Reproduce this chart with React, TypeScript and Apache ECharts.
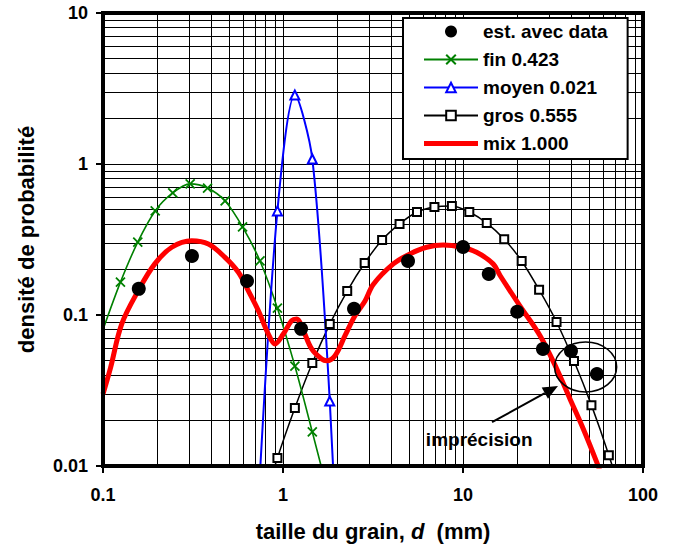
import React, { useEffect, useRef } from "react";
import * as echarts from "echarts";

// ---- data ----
const dataX = [0.158, 0.312, 0.631, 1.26, 2.48, 4.95, 10.0, 13.9, 20.0, 27.8, 39.8, 55.5];
const dataY = [0.149, 0.246, 0.168, 0.081, 0.11, 0.228, 0.282, 0.187, 0.105, 0.0596, 0.0578, 0.0407];

const finX = [0.1, 0.125, 0.156, 0.195, 0.244, 0.305, 0.381, 0.477, 0.596, 0.745, 0.931, 1.164, 1.455, 1.819];
const finY = [0.08, 0.165, 0.304, 0.489, 0.643, 0.738, 0.693, 0.569, 0.383, 0.228, 0.111, 0.0459, 0.0168, 0.006];

const moyenX = [0.745, 0.931, 1.164, 1.455, 1.819, 2.274];
const moyenY = [0.009, 0.489, 2.86, 1.08, 0.0269, 0.0001];

const grosX = [0.745, 0.931, 1.164, 1.455, 1.819, 2.274, 2.842, 3.553, 4.441, 5.551, 6.939, 8.674, 10.84, 13.55, 16.94, 21.18, 26.47, 33.09, 41.36, 51.7, 64.6, 80.8];
const grosY = [0.0048, 0.0113, 0.0242, 0.0481, 0.0871, 0.144, 0.221, 0.314, 0.401, 0.481, 0.519, 0.527, 0.481, 0.406, 0.318, 0.228, 0.147, 0.0899, 0.0496, 0.0253, 0.0118, 0.005];

const mixX = [0.1, 0.11, 0.127, 0.157, 0.194, 0.241, 0.311, 0.385, 0.476, 0.565, 0.641, 0.729, 0.829, 0.903, 1.004, 1.117, 1.19, 1.297, 1.443, 1.641, 1.749, 1.945, 2.21, 2.51, 2.855, 3.18, 4.1, 5.08, 6.28, 7.77, 9.62, 11.9, 14.7, 16.1, 20.7, 26.8, 33.2, 39.3, 46.6, 55.3, 60];
const mixY = [0.03, 0.0445, 0.0871, 0.145, 0.218, 0.281, 0.31, 0.295, 0.241, 0.192, 0.145, 0.107, 0.0748, 0.0643, 0.0748, 0.0917, 0.0941, 0.0787, 0.0596, 0.0511, 0.0498, 0.0538, 0.0729, 0.0989, 0.124, 0.16, 0.218, 0.254, 0.281, 0.291, 0.283, 0.26, 0.218, 0.182, 0.115, 0.0729, 0.0439, 0.0278, 0.0176, 0.0106, 0.0081];

const seriesNames = ["est. avec data", "fin 0.423", "moyen 0.021", "gros 0.555", "mix 1.000"];

// grid lines of the log-log chart
const xGrid = [0.2, 0.3, 0.4, 0.5, 0.6, 0.7, 0.8, 0.9, 1, 2, 3, 4, 5, 6, 7, 8, 9, 10, 20, 30, 40, 50, 60, 70, 80, 90];
const yGrid = [0.02, 0.03, 0.04, 0.05, 0.06, 0.07, 0.08, 0.09, 0.1, 0.2, 0.3, 0.4, 0.5, 0.6, 0.7, 0.8, 0.9, 1, 2, 3, 4, 5, 6, 7, 8, 9];

// annotation anchors (data coordinates)
const noteText = "imprécision";
const ellipseCenter = [48, 0.0453];
const arrowFrom = [14.5, 0.0195];
const arrowTo = [33.7, 0.0339];
const noteAt = [12.3, 0.0149];

const FONT = "'Liberation Sans', Arial, sans-serif";

const zip = (xs: number[], ys: number[]) => xs.map((x, i) => [x, ys[i]]);

const fmt = (v: number) => (v >= 1 ? String(Math.round(v)) : String(parseFloat(v.toPrecision(2))));

export default function App() {
  const ref = useRef<HTMLDivElement>(null);
  useEffect(() => {
    if (!ref.current) return;
    const chart = echarts.init(ref.current, null, { renderer: "svg" });
    const labelStyle = { fontFamily: FONT, fontWeight: "bold" as const, fontSize: 18, color: "#000" };
    const option: any = {
      animation: false,
      backgroundColor: "#fff",
      grid: { left: 103, right: 30, top: 13, bottom: 80, show: false },
      legend: {
        data: [
          { name: seriesNames[0] },
          { name: seriesNames[1] },
          { name: seriesNames[2] },
          { name: seriesNames[3] },
          { name: seriesNames[4], icon: "path://M0 0H54V5H0Z", itemStyle: { color: "#ff0000" } },
        ],
        orient: "vertical",
        left: 403,
        top: 18,
        backgroundColor: "#fff",
        borderColor: "#000",
        borderWidth: 2,
        padding: [4, 20, 6, 20],
        itemWidth: 54,
        itemHeight: 12,
        itemGap: 9,
        selectedMode: false,
        textStyle: { fontFamily: FONT, fontWeight: "bold", fontSize: 19, color: "#000" },
        z: 10,
      },
      xAxis: {
        type: "log",
        logBase: 10,
        min: 0.1,
        max: 100,
        axisLine: { show: false },
        axisTick: { show: true, length: 7, lineStyle: { color: "#000", width: 2 } },
        splitLine: { show: false },
        axisLabel: { ...labelStyle, margin: 20, formatter: fmt },
        name: "taille du grain, {i|d}  (mm)",
        nameLocation: "middle",
        nameGap: 54,
        nameTextStyle: {
          fontFamily: FONT,
          fontWeight: "bold",
          fontSize: 22,
          color: "#000",
          rich: { i: { fontFamily: FONT, fontWeight: "bold", fontStyle: "italic", fontSize: 22, color: "#000" } },
        },
      },
      yAxis: {
        type: "log",
        logBase: 10,
        min: 0.01,
        max: 10,
        axisLine: { show: false },
        axisTick: { show: true, length: 7, lineStyle: { color: "#000", width: 2 } },
        splitLine: { show: false },
        axisLabel: { ...labelStyle, margin: 15, formatter: fmt },
        name: "densité de probabilité",
        nameLocation: "middle",
        nameGap: 66,
        nameTextStyle: { fontFamily: FONT, fontWeight: "bold", fontSize: 22, color: "#000" },
      },
      series: [
        {
          name: "grid",
          type: "line",
          data: [],
          z: 1,
          silent: true,
          markLine: {
            silent: true,
            z: 1,
            symbol: ["none", "none"],
            label: { show: false },
            emphasis: { disabled: true },
            lineStyle: { color: "#000", width: 1, type: "solid" },
            data: [...xGrid.map((v) => ({ xAxis: v })), ...yGrid.map((v) => ({ yAxis: v }))],
          },
        },
        {
          name: seriesNames[3],
          type: "line",
          data: zip(grosX, grosY),
          smooth: 0.3,
          symbol: "emptyRect",
          symbolSize: 8,
          color: "#000",
          lineStyle: { color: "#000", width: 1.5 },
          itemStyle: { color: "#000", borderWidth: 1.3 },
          z: 4,
        },
        {
          name: seriesNames[1],
          type: "line",
          data: zip(finX, finY).map((p, i) => (i === 0 ? { value: p, symbol: "none" } : p)),
          smooth: 0.3,
          symbol: "path://M0 0L10 10M10 0L0 10",
          symbolSize: 9,
          color: "#008000",
          lineStyle: { color: "#008000", width: 1.6 },
          itemStyle: { color: "#008000", borderColor: "#008000", borderWidth: 1.8 },
          z: 4,
        },
        {
          name: seriesNames[2],
          type: "line",
          data: zip(moyenX, moyenY),
          smooth: 0.3,
          symbol: "emptyTriangle",
          symbolSize: 9,
          color: "#0000ff",
          lineStyle: { color: "#0000ff", width: 2 },
          itemStyle: { color: "#0000ff", borderWidth: 1.3 },
          z: 4,
        },
        {
          name: seriesNames[4],
          type: "line",
          data: zip(mixX, mixY),
          smooth: 0.35,
          symbol: "none",
          color: "#ff0000",
          lineStyle: { color: "#ff0000", width: 5 },
          z: 5,
        },
        {
          name: seriesNames[0],
          type: "scatter",
          data: zip(dataX, dataY),
          symbol: "circle",
          symbolSize: 14,
          color: "#000",
          itemStyle: { color: "#000", opacity: 1 },
          z: 6,
        },
      ],
    };
    chart.setOption(option);

    const px = (p: number[]) => chart.convertToPixel({ gridIndex: 0 }, p) as number[];
    const g0 = px([0.1, 10]);
    const g1 = px([100, 0.01]);
    const c = px(ellipseCenter);
    const a0 = px(arrowFrom);
    const a1 = px(arrowTo);
    const t = px(noteAt);
    const dx = a1[0] - a0[0];
    const dy = a1[1] - a0[1];
    const len = Math.hypot(dx, dy);
    const ux = dx / len;
    const uy = dy / len;
    const headL = 15;
    const headW = 6.5;
    const bx = a1[0] - ux * headL;
    const by = a1[1] - uy * headL;
    chart.setOption({
      graphic: [
        {
          type: "rect",
          shape: { x: g0[0], y: g0[1], width: g1[0] - g0[0], height: g1[1] - g0[1] },
          style: { fill: "none", stroke: "#000", lineWidth: 4 },
          silent: true,
          z: 30,
        },
        {
          type: "ellipse",
          shape: { cx: c[0], cy: c[1], rx: 31, ry: 25 },
          style: { fill: "none", stroke: "#000", lineWidth: 1.6 },
          z: 20,
        },
        {
          type: "line",
          shape: { x1: a0[0], y1: a0[1], x2: bx, y2: by },
          style: { stroke: "#000", lineWidth: 2 },
          z: 20,
        },
        {
          type: "polygon",
          shape: {
            points: [
              [a1[0], a1[1]],
              [bx - uy * headW, by + ux * headW],
              [bx + uy * headW, by - ux * headW],
            ],
          },
          style: { fill: "#000" },
          z: 20,
        },
        {
          type: "text",
          x: t[0],
          y: t[1],
          style: {
            text: noteText,
            fontFamily: FONT,
            fontWeight: "bold",
            fontSize: 19,
            fill: "#000",
            align: "center",
            verticalAlign: "middle",
          },
          z: 20,
        },
      ],
    });
    return () => chart.dispose();
  }, []);
  return (
    <div
      ref={ref}
      style={{ position: "fixed", left: 0, top: 0, width: 673, height: 547, background: "#fff" }}
    />
  );
}
